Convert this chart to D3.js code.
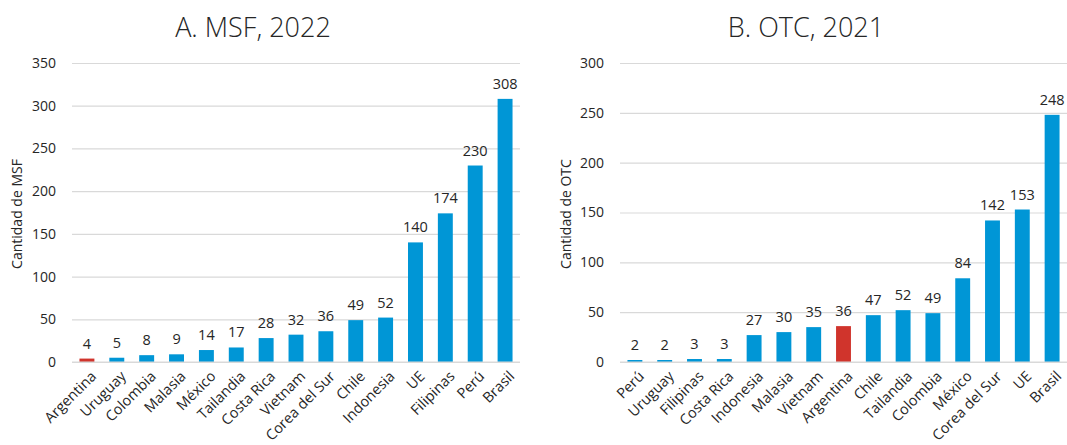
<!DOCTYPE html>
<html>
<head>
<meta charset="utf-8">
<script src="https://cdn.jsdelivr.net/npm/d3@7"></script>
<style>
  body { margin: 0; background: #fff; }
  text { font-family: "Open Sans", "Noto Sans", sans-serif; fill: #262626; }
</style>
</head>
<body>
<script>
// panel A: MSF 2022
const msfCountries = ["Argentina","Uruguay","Colombia","Malasia","México","Tailandia","Costa Rica","Vietnam","Corea del Sur","Chile","Indonesia","UE","Filipinas","Perú","Brasil"];
const msfValues = [4,5,8,9,14,17,28,32,36,49,52,140,174,230,308];
const msfTicks = [0,50,100,150,200,250,300,350];

// panel B: OTC 2021
const otcCountries = ["Perú","Uruguay","Filipinas","Costa Rica","Indonesia","Malasia","Vietnam","Argentina","Chile","Tailandia","Colombia","México","Corea del Sur","UE","Brasil"];
const otcValues = [2,2,3,3,27,30,35,36,47,52,49,84,142,153,248];
const otcTicks = [0,50,100,150,200,250,300];

const blue = "#0096d6", red = "#d0342c";

const svg = d3.select("body").append("svg").attr("width", 1067).attr("height", 445);

function drawChart(opts){
  let data = opts.countries.map((c,i)=>({c, v: opts.values[i]}));
  let x = d3.scaleBand().domain(opts.countries).range([opts.x0, opts.x1]).paddingInner(0.5).paddingOuter(0.25);
  let y = d3.scaleLinear().domain([0, d3.max(opts.ticks)]).range([362, 63]);
  let g = svg.append("g");

  // title
  g.append("text").attr("x", opts.titleX).attr("y", 37)
    .attr("text-anchor","middle").style("font-size","27px").style("font-weight","300")
    .text(opts.title);

  // gridlines + y labels
  let yAxis = d3.axisLeft(y).tickValues(opts.ticks).tickSize(-(opts.x1 - opts.x0)).tickPadding(16);
  let ya = g.append("g").attr("transform","translate("+opts.x0+",0)").call(yAxis);
  ya.select(".domain").remove();
  ya.selectAll(".tick line").attr("stroke","#d9d9d9").attr("stroke-width",1.2);
  ya.selectAll(".tick text").style("font-size","14px").attr("fill","#262626");

  // y title
  g.append("text")
    .attr("transform","translate("+opts.yTitleX+","+214+") rotate(-90)")
    .attr("text-anchor","middle").style("font-size","14px")
    .text(opts.yTitle);

  // bars
  g.selectAll("rect.bar").data(data).enter().append("rect")
    .attr("class","bar")
    .attr("x", d=>x(d.c))
    .attr("width", x.bandwidth())
    .attr("y", d=>y(d.v))
    .attr("height", d=>y(0)-y(d.v))
    .attr("fill", d=>d.c==="Argentina" ? red : blue);

  // value labels
  g.selectAll("text.val").data(data).enter().append("text")
    .attr("class","val")
    .attr("x", d=>x(d.c)+x.bandwidth()/2)
    .attr("y", d=>y(d.v)-10)
    .attr("text-anchor","middle").style("font-size","14.5px")
    .text(d=>d.v);

  // x axis line
  g.append("line").attr("x1",opts.x0).attr("x2",opts.x1).attr("y1",y(0)).attr("y2",y(0))
    .attr("stroke","#d9d9d9").attr("stroke-width",1.2);

  // rotated category labels
  g.selectAll("text.cat").data(data).enter().append("text")
    .attr("class","cat")
    .attr("transform", d=>"translate("+(x(d.c)+x.bandwidth()/2+3)+","+370+") rotate(-45)")
    .attr("text-anchor","end").attr("dy","0.7em").style("font-size","14.5px")
    .text(d=>d.c);
}

drawChart({
  countries: msfCountries, values: msfValues, ticks: msfTicks,
  x0: 72, x1: 520, title: "A. MSF, 2022", titleX: 253,
  yTitle: "Cantidad de MSF", yTitleX: 22
});

drawChart({
  countries: otcCountries, values: otcValues, ticks: otcTicks,
  x0: 620, x1: 1067, title: "B. OTC, 2021", titleX: 806,
  yTitle: "Cantidad de OTC", yTitleX: 571
});
</script>
</body>
</html>
